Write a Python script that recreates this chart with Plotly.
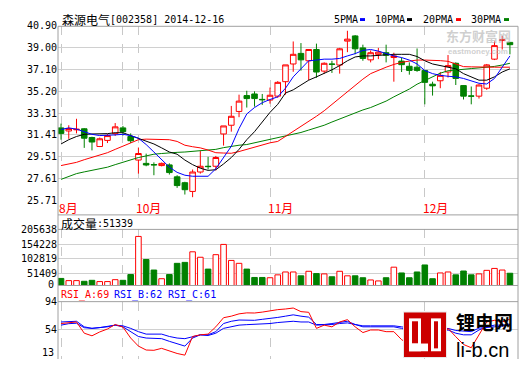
import plotly.graph_objects as go

W, H = 520, 365
def px(x): return x / W
def py(y): return 1 - y / H

# ---------------- data ----------------
idx = list(range(59))
opens = [32.02, 31.75, 31.85, 31.94, 31.18, 30.40, 30.93, 31.52, 32.02, 31.27,
         29.22, 28.93, 28.83, 28.74, 28.80, 27.76, 27.25, 26.49, 28.18, 28.68,
         28.68, 31.49, 32.25, 33.45, 34.83, 34.97, 34.50, 34.44, 34.78, 36.04,
         37.58, 38.50, 37.86, 38.84, 36.96, 37.58, 37.49, 39.57, 40.02, 38.98,
         37.94, 38.42, 38.56, 38.14, 37.83, 37.38, 37.30, 37.02, 35.82, 36.12,
         36.88, 37.64, 35.70, 34.80, 34.78, 35.47, 38.00, 39.62, 39.46]
highs = [32.39, 32.25, 32.81, 32.00, 31.25, 31.18, 31.49, 32.44, 32.19, 31.54,
         30.31, 29.78, 29.02, 29.00, 28.93, 27.90, 27.33, 28.40, 30.00, 29.50,
         29.58, 32.19, 33.93, 34.91, 35.25, 35.20, 34.97, 35.53, 36.09, 37.50,
         39.54, 39.40, 38.84, 39.35, 37.72, 37.86, 38.98, 40.47, 40.10, 39.26,
         38.76, 38.98, 39.26, 38.56, 38.14, 37.72, 38.93, 37.02, 36.04, 36.88,
         38.36, 37.72, 35.75, 35.62, 35.81, 37.58, 39.54, 40.02, 39.46]
lows = [30.99, 31.07, 31.54, 30.28, 30.06, 30.35, 30.70, 31.32, 31.35, 30.70,
        28.04, 28.68, 27.90, 28.67, 27.96, 26.80, 26.22, 25.99, 28.04, 28.40,
        28.32, 30.48, 31.69, 32.95, 33.79, 33.87, 34.02, 34.13, 34.63, 34.91,
        36.90, 37.00, 36.17, 36.38, 36.74, 36.80, 36.74, 38.61, 38.42, 37.86,
        37.72, 38.00, 37.72, 36.04, 36.88, 36.65, 36.90, 34.07, 34.83, 35.47,
        36.40, 35.75, 34.49, 34.07, 34.57, 35.33, 37.92, 38.84, 38.42]
closes = [31.54, 31.96, 31.90, 31.12, 30.79, 31.07, 31.35, 32.11, 31.69, 30.90,
          29.79, 28.79, 28.80, 28.93, 28.13, 27.00, 26.64, 28.18, 28.68, 28.65,
          29.44, 32.19, 33.03, 34.35, 34.57, 34.57, 34.47, 34.86, 35.98, 37.50,
          38.42, 37.94, 38.84, 36.88, 37.64, 37.55, 38.90, 39.74, 38.90, 38.06,
          38.56, 38.61, 38.34, 38.28, 37.52, 37.02, 37.02, 35.98, 35.68, 36.59,
          37.44, 36.32, 34.78, 34.78, 35.75, 37.50, 39.18, 39.68, 39.26]

ma5 = [31.88, 32.02, 31.91, 31.69, 31.46, 31.35, 31.35, 31.41, 31.46, 31.35,
       31.12, 30.57, 29.92, 29.30, 28.60, 28.15, 27.90, 27.81, 27.81, 27.81,
       28.46, 29.44, 30.42, 31.96, 33.23, 33.79, 34.21, 34.49, 34.72, 35.47,
       36.46, 37.16, 37.86, 37.92, 38.00, 38.00, 38.06, 38.28, 38.48, 38.76,
       38.84, 38.70, 38.48, 38.28, 38.14, 37.92, 37.58, 37.01, 36.74, 36.59,
       36.51, 36.46, 36.32, 36.12, 35.90, 35.84, 36.32, 37.30, 38.28]
ma10 = [30.62, 30.99, 31.27, 31.46, 31.49, 31.49, 31.52, 31.60, 31.60, 31.35,
        31.12, 30.90, 30.62, 30.28, 29.92, 29.73, 29.22, 28.82, 28.51, 28.32,
        28.38, 28.88, 29.44, 30.15, 30.99, 31.69, 32.53, 33.37, 34.07, 35.05,
        35.33, 35.75, 36.17, 36.46, 36.74, 37.07, 37.44, 37.86, 38.19, 38.28,
        38.28, 38.34, 38.36, 38.42, 38.42, 38.42, 38.23, 37.86, 37.58, 37.44,
        37.35, 37.16, 36.74, 36.46, 36.17, 36.17, 36.46, 36.88, 37.16]
ma20 = [28.74, 28.88, 29.02, 29.25, 29.44, 29.67, 29.86, 30.15, 30.42, 30.72,
        30.99, 31.04, 31.04, 31.01, 30.99, 30.84, 30.51, 30.38, 30.28, 30.09,
        29.86, 29.83, 29.81, 29.96, 30.15, 30.34, 30.57, 30.72, 30.84, 31.27,
        31.69, 32.11, 32.53, 33.03, 33.51, 34.07, 34.63, 35.22, 35.75, 36.26,
        36.74, 37.03, 37.30, 37.54, 37.72, 37.83, 37.92, 37.92, 37.92, 37.87,
        37.81, 37.58, 37.35, 37.33, 37.30, 37.30, 37.30, 37.30, 37.30]
ma30 = [27.54, 27.81, 28.04, 28.19, 28.32, 28.46, 28.60, 28.82, 29.02, 29.25,
        29.44, 29.58, 29.73, 29.79, 29.86, 29.89, 29.92, 29.98, 30.06, 30.10,
        30.15, 30.30, 30.42, 30.51, 30.57, 30.72, 30.84, 30.99, 31.12, 31.27,
        31.41, 31.62, 31.83, 32.04, 32.25, 32.53, 32.81, 33.09, 33.37, 33.58,
        33.79, 34.07, 34.35, 34.72, 35.05, 35.40, 35.82, 36.15, 36.50, 36.78,
        36.99, 37.07, 37.12, 37.18, 37.24, 37.30, 37.37, 37.49, 37.64]

volume = [33100, 25400, 25400, 23000, 26400, 22000, 22000, 28700, 26400, 46700,
          180900, 99800, 62600, 32100, 46700, 86200, 89600, 126800, 107600, 65900,
          116700, 152800, 96400, 86200, 65900, 36500, 36500, 35500, 45700, 55800,
          55800, 42300, 58200, 50100, 49000, 38900, 58200, 42300, 42300, 35500,
          27700, 24300, 35500, 72700, 52400, 35500, 55800, 80500, 32100, 52400,
          55800, 45700, 59200, 45700, 49000, 61500, 68300, 62600, 51339]

rsi_a = [62.8, 63.9, 65.0, 49.0, 45.3, 50.8, 55.0, 61.4, 57.7, 42.1,
         30.6, 25.0, 24.6, 27.4, 23.7, 20.1, 17.7, 44.3, 46.7, 47.7,
         58.1, 71.1, 73.3, 76.6, 78.0, 77.8, 79.1, 81.2, 82.6, 83.5,
         84.9, 79.8, 78.8, 55.9, 60.5, 58.1, 65.0, 68.3, 58.1, 49.9,
         53.6, 53.6, 51.2, 51.2, 39.8, 32.9, 30.1, 21.9, 24.6, 39.8,
         55.9, 44.0, 32.9, 28.3, 46.7, 65.0, 67.4, 65.0, 69.0]
rsi_b = [65.0, 66.0, 66.0, 58.1, 55.9, 57.0, 58.4, 60.5, 58.1, 51.2,
         44.3, 42.1, 41.2, 41.2, 37.4, 33.9, 30.6, 42.1, 46.7, 46.7,
         51.2, 62.8, 66.0, 67.8, 67.8, 67.4, 68.8, 69.7, 71.5, 73.3,
         75.2, 73.3, 71.9, 61.4, 61.4, 62.8, 64.2, 66.0, 61.4, 58.1,
         58.1, 58.1, 58.1, 58.1, 55.9, 52.2, 50.8, 45.3, 46.7, 50.8,
         53.6, 49.0, 46.7, 46.7, 53.6, 58.1, 60.5, 60.5, 62.0]
rsi_c = [60.5, 62.6, 63.2, 56.8, 55.9, 56.8, 58.1, 60.5, 59.5, 55.9,
         51.2, 47.7, 47.7, 47.7, 44.3, 42.1, 41.2, 44.3, 46.7, 45.7,
         49.0, 55.9, 58.1, 60.5, 61.2, 61.4, 61.9, 62.8, 64.2, 65.0,
         66.0, 65.0, 65.0, 60.5, 60.5, 61.4, 62.8, 63.7, 61.4, 59.5,
         59.5, 59.5, 59.5, 59.5, 58.1, 55.9, 55.0, 51.2, 52.2, 54.3,
         55.9, 52.9, 52.2, 51.2, 56.3, 56.8, 58.1, 59.1, 61.0]

price_ticks = [25.71, 27.61, 29.51, 31.41, 33.31, 35.20, 37.10, 39.00, 40.90]
vol_ticks = [51409, 102819, 154228, 205638]
rsi_ticks = [54, 94]
month_pos = [0, 10, 27, 47]
month_text = ["8月", "10月", "11月", "12月"]
grid_pos = [0, 8, 10, 27, 47]

stock_title = "森源电气"
stock_code = "[002358] 2014-12-16"
vol_title = "成交量:51339"
rsi_titles = ["RSI_A:69", "RSI_B:62", "RSI_C:61"]
ma_names = ["5PMA", "10PMA", "20PMA", "30PMA"]

# ---------------- styles ----------------
RED = "#ff0000"
GREEN = "#008000"
BLUE = "#0000ff"
BLACK = "#000000"
FRAME = "#a0a0a0"
GRID = "#d0d0d0"
MONO = "DejaVu Sans Mono"
CJK = "Noto Sans CJK SC"

fig = go.Figure()

fig.add_trace(go.Candlestick(
    x=idx, open=opens, high=highs, low=lows, close=closes,
    xaxis="x", yaxis="y", whiskerwidth=0,
    increasing=dict(line=dict(color=RED, width=1), fillcolor="white"),
    decreasing=dict(line=dict(color=GREEN, width=1), fillcolor=GREEN),
    showlegend=False, hoverinfo="skip"))

for vals, col in [(ma30, GREEN), (ma20, RED), (ma10, BLACK), (ma5, BLUE)]:
    fig.add_trace(go.Scatter(x=idx, y=vals, mode="lines", xaxis="x", yaxis="y",
                             line=dict(color=col, width=1), showlegend=False,
                             hoverinfo="skip"))

up = [c >= o for o, c in zip(opens, closes)]
fig.add_trace(go.Bar(
    x=idx, y=volume, xaxis="x2", yaxis="y2", width=0.72,
    marker=dict(color=["white" if u else GREEN for u in up],
                line=dict(color=[RED if u else GREEN for u in up], width=1)),
    showlegend=False, hoverinfo="skip"))

for vals, col in [(rsi_c, BLUE), (rsi_b, BLUE), (rsi_a, RED)]:
    fig.add_trace(go.Scatter(x=idx, y=vals, mode="lines", xaxis="x3", yaxis="y3",
                             line=dict(color=col, width=1), showlegend=False,
                             hoverinfo="skip"))

xdom = [px(58), px(518)]
xr = [-0.39, 59.04]
xcommon = dict(domain=xdom, range=xr, tickvals=grid_pos, showticklabels=False,
               showgrid=True, gridcolor="#c8c8c8", griddash="dash", gridwidth=1,
               zeroline=False, showline=False, ticks="", fixedrange=True)

rsi_top = 305.7
rsi_scale = 0.725
fig.update_layout(
    width=W, height=H, margin=dict(l=0, r=0, t=0, b=0),
    paper_bgcolor="white", plot_bgcolor="white", showlegend=False,
    bargap=0, boxgap=0.1, boxgroupgap=0.2,
    xaxis=dict(anchor="y", rangeslider=dict(visible=False), **xcommon),
    xaxis2=dict(anchor="y2", matches="x", **xcommon),
    xaxis3=dict(anchor="y3", matches="x", **xcommon),
    yaxis=dict(domain=[py(201), py(20.5)], range=[25.71, 40.90], anchor="x",
               tickvals=price_ticks, ticktext=[f"{v:.2f}" for v in price_ticks],
               tickfont=dict(family=MONO, size=10, color="black"),
               showgrid=True, gridcolor=GRID, zeroline=False, ticks="",
               showline=False, fixedrange=True),
    yaxis2=dict(domain=[py(289), py(231)], range=[8200, 205638], anchor="x2",
                tickvals=vol_ticks, ticktext=[str(v) for v in vol_ticks],
                tickfont=dict(family=MONO, size=10, color="black"),
                showgrid=True, gridcolor=GRID, zeroline=False, ticks="",
                showline=False, fixedrange=True),
    yaxis3=dict(domain=[0, py(rsi_top)],
                range=[94 - (H - rsi_top) / rsi_scale, 94], anchor="x3",
                tickvals=rsi_ticks, ticktext=[str(v) for v in rsi_ticks],
                tickfont=dict(family=MONO, size=10, color="black"),
                showgrid=True, gridcolor=GRID, zeroline=False, ticks="",
                showline=False, fixedrange=True),
)

shapes = []
def hline(y, x0=58, x1=518, color=FRAME):
    shapes.append(dict(type="line", xref="paper", yref="paper", x0=px(x0), x1=px(x1),
                       y0=py(y), y1=py(y), line=dict(color=color, width=1), layer="above"))
def vline(x, y0, y1, color=FRAME):
    shapes.append(dict(type="line", xref="paper", yref="paper", x0=px(x), x1=px(x),
                       y0=py(y0), y1=py(y1), line=dict(color=color, width=1), layer="above"))
for y in [21, 216, 231, 289, rsi_top]:
    hline(y)
vline(58, 21, 365)
vline(518, 21, 365)

# legend markers
for xm, col in [(360, BLUE), (407, BLACK), (456, RED), (504, GREEN)]:
    shapes.append(dict(type="rect", xref="paper", yref="paper", x0=px(xm), x1=px(xm + 5),
                       y0=py(15.5), y1=py(12.5), fillcolor=col, line=dict(width=0)))

# li-b logo block
def rect(x0, y0, x1, y1, col):
    shapes.append(dict(type="rect", xref="paper", yref="paper", x0=px(x0), x1=px(x1),
                       y0=py(y1), y1=py(y0), fillcolor=col, line=dict(width=0), layer="above"))
rect(403, 316, 447, 364, "#e8e8e8")
rect(404, 317, 446, 363, "#cc0000")
rect(409, 323, 421, 357, "white")
rect(412, 326, 418, 349, "#cc0000")
rect(409, 349, 428, 357, "white")
rect(431, 323, 441, 357, "white")
rect(434, 326, 438, 354, "#cc0000")
fig.update_layout(shapes=shapes)

ann = []
def text(x, y, s, size=10, family=MONO, color="black", xanchor="left",
         yanchor="middle", **kw):
    ann.append(dict(x=px(x), y=py(y), xref="paper", yref="paper", text=s, showarrow=False,
                    xanchor=xanchor, yanchor=yanchor,
                    font=dict(family=family, size=size, color=color), **kw))

text(60, 14, stock_title, size=12, family=CJK)
text(108, 14, stock_code)
for xt, name in zip([332, 373, 421, 469], ma_names):
    text(xt, 14, name)
text(59, 225, vol_title.split(":")[0], size=12, family=CJK)
text(95, 225, ":" + vol_title.split(":")[1])
text(56, 288, "0", xanchor="right")
for xt, name, col in zip([59, 112, 166], rsi_titles, [RED, BLUE, BLUE]):
    text(xt, 299, name, color=col)
text(56, 358, "13", xanchor="right")

# month labels on the shared x scale
for pos, m in zip(month_pos, month_text):
    ann.append(dict(x=pos, y=py(208.5), xref="x", yref="paper", text=m, showarrow=False,
                    xanchor="left", yanchor="middle", xshift=-4,
                    font=dict(family=CJK, size=12, color=RED)))

# watermarks
text(444, 30.5, "<b>东方财富网</b>", size=13, family=CJK, color="rgba(175,175,175,0.6)")
text(446, 40, "<b>eastmoney.com</b>", size=8, family="Liberation Sans",
     color="rgba(175,175,175,0.6)", yanchor="top")
text(454, 342, "<b>锂电网</b>", size=19, family=CJK, yanchor="bottom")
text(454, 342.5, "li-b.cn", size=20, family="Liberation Sans", yanchor="top")

fig.update_layout(annotations=ann)
fig.write_html("out.html", config={"displayModeBar": False, "staticPlot": True},
               post_script="document.body.style.margin='0';"
                           "document.body.style.overflow='hidden';"
                           "document.documentElement.style.overflow='hidden';")
